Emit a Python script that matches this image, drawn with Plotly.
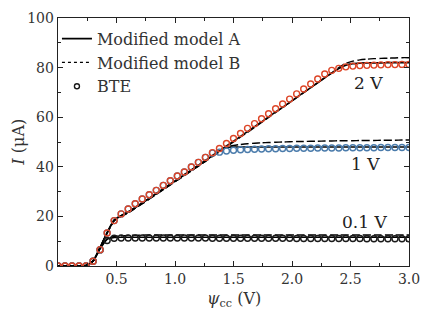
import plotly.graph_objects as go

# Bias grid psi_cc (V)
psi = [0.00, 0.06, 0.12, 0.18, 0.24, 0.30, 0.36, 0.42, 0.48, 0.54,
       0.60, 0.66, 0.72, 0.78, 0.84, 0.90, 0.96, 1.02, 1.08, 1.14,
       1.20, 1.26, 1.32, 1.38, 1.44, 1.50, 1.56, 1.62, 1.68, 1.74,
       1.80, 1.86, 1.92, 1.98, 2.04, 2.10, 2.16, 2.22, 2.28, 2.34,
       2.40, 2.46, 2.52, 2.58, 2.64, 2.70, 2.76, 2.82, 2.88, 2.94, 3.00]

# BTE currents (uA)
bte_2v = [0, 0, 0, 0, 0, 1.9, 6.6, 13.3, 18.3, 21.0,
          23.0, 25.1, 27.0, 28.7, 30.5, 32.5, 34.4, 36.3, 37.9, 39.9,
          41.8, 43.8, 45.7, 47.4, 49.4, 51.4, 53.4, 55.5, 57.4, 59.4,
          61.4, 63.4, 65.3, 67.3, 69.4, 71.4, 73.4, 75.4, 77.4, 78.9,
          79.7, 80.3, 80.6, 80.8, 80.9, 81.0, 81.1, 81.2, 81.2, 81.3, 81.3]
bte_1v = [0, 0, 0, 0, 0, 1.9, 6.6, 13.3, 18.3, 21.0,
          23.0, 25.1, 27.0, 28.7, 30.5, 32.5, 34.4, 36.3, 37.9, 39.9,
          41.8, 43.8, 45.5, 45.9, 46.4, 46.7, 46.9, 47.0, 47.1, 47.2,
          47.3, 47.3, 47.4, 47.4, 47.5, 47.5, 47.5, 47.6, 47.6, 47.6,
          47.6, 47.7, 47.7, 47.7, 47.7, 47.7, 47.8, 47.8, 47.8, 47.8, 47.8]
bte_01v = [0, 0, 0, 0, 0, 1.9, 6.5, 10.3, 11.2, 11.3,
           11.3, 11.3, 11.3, 11.3, 11.3, 11.3, 11.3, 11.3, 11.3, 11.3,
           11.3, 11.3, 11.2, 11.2, 11.2, 11.2, 11.2, 11.2, 11.2, 11.2,
           11.2, 11.2, 11.2, 11.2, 11.1, 11.1, 11.1, 11.1, 11.1, 11.1,
           11.1, 11.1, 11.1, 11.1, 11.0, 11.0, 11.0, 11.0, 11.0, 11.0, 11.0]

# Modified model A (solid)
a_2v = [0, 0, 0, 0, 0.2, 2.0, 7.5, 13.5, 18.5, 20.3,
        21.8, 23.6, 25.4, 27.3, 29.2, 31.1, 33.0, 34.9, 36.8, 38.7,
        40.6, 42.5, 44.5, 46.4, 48.4, 50.3, 52.3, 54.2, 56.2, 58.1,
        60.1, 62.1, 64.0, 66.0, 68.0, 70.0, 71.9, 73.9, 75.9, 77.8,
        79.6, 81.0, 81.6, 81.8, 81.9, 81.9, 81.9, 82.0, 82.0, 82.0, 82.0]
a_1v = [0, 0, 0, 0, 0.2, 2.0, 7.5, 13.5, 18.5, 20.3,
        21.8, 23.6, 25.4, 27.3, 29.2, 31.1, 33.0, 34.9, 36.8, 38.7,
        40.6, 42.5, 44.5, 46.4, 47.8, 48.0, 48.0, 48.0, 48.0, 48.0,
        48.0, 48.0, 48.0, 48.0, 48.0, 48.0, 48.0, 48.0, 48.0, 48.0,
        48.0, 48.0, 48.0, 48.0, 48.0, 48.0, 48.0, 48.0, 48.0, 48.0, 48.0]
a_01v = [0, 0, 0, 0, 0.2, 2.0, 7.0, 10.8, 11.5, 11.6,
         11.6, 11.6, 11.6, 11.6, 11.6, 11.6, 11.6, 11.6, 11.6, 11.6,
         11.6, 11.6, 11.6, 11.6, 11.6, 11.6, 11.6, 11.6, 11.6, 11.6,
         11.6, 11.6, 11.6, 11.6, 11.6, 11.6, 11.6, 11.6, 11.6, 11.6,
         11.6, 11.6, 11.6, 11.6, 11.6, 11.6, 11.6, 11.6, 11.6, 11.6, 11.6]

# Modified model B (dashed)
b_2v = [0, 0, 0, 0, 0.2, 2.0, 7.4, 13.3, 18.2, 20.0,
        21.5, 23.3, 25.1, 27.0, 28.9, 30.8, 32.7, 34.6, 36.5, 38.4,
        40.3, 42.2, 44.2, 46.1, 48.1, 50.0, 52.0, 53.9, 55.9, 57.9,
        59.9, 61.9, 63.9, 65.9, 67.9, 69.9, 71.9, 73.9, 75.9, 77.9,
        80.0, 81.7, 82.6, 83.1, 83.4, 83.6, 83.7, 83.8, 83.9, 84.0, 84.0]
b_1v = [0, 0, 0, 0, 0.2, 2.0, 7.4, 13.3, 18.2, 20.0,
        21.5, 23.3, 25.1, 27.0, 28.9, 30.8, 32.7, 34.6, 36.5, 38.4,
        40.3, 42.2, 44.2, 46.1, 47.9, 48.6, 49.0, 49.3, 49.5, 49.7,
        49.8, 49.9, 50.0, 50.1, 50.2, 50.2, 50.3, 50.3, 50.4, 50.4,
        50.5, 50.5, 50.5, 50.6, 50.6, 50.6, 50.7, 50.7, 50.7, 50.8, 50.8]
b_01v = [0, 0, 0, 0, 0.2, 2.0, 7.0, 11.0, 11.9, 12.2,
         12.35, 12.4, 12.45, 12.5, 12.5, 12.5, 12.5, 12.5, 12.5, 12.5,
         12.5, 12.5, 12.5, 12.5, 12.5, 12.5, 12.5, 12.5, 12.5, 12.5,
         12.5, 12.5, 12.5, 12.5, 12.5, 12.5, 12.5, 12.5, 12.5, 12.5,
         12.5, 12.5, 12.5, 12.5, 12.5, 12.5, 12.5, 12.5, 12.5, 12.5, 12.5]

x_ticks = [0.5, 1.0, 1.5, 2.0, 2.5, 3.0]
x_tick_text = ["0.5", "1.0", "1.5", "2.0", "2.5", "3.0"]
y_ticks = [0, 20, 40, 60, 80, 100]

labels = ["0.1 V", "1 V", "2 V"]
label_x = [2.62, 2.63, 2.65]
label_y = [17.6, 41.2, 73.6]

FONT = "DejaVu Serif"
RED = "#dd4527"
BLUE = "#4a7bab"
BLK = "#1a1a1a"

fig = go.Figure()

for a, b in [(a_01v, b_01v), (a_1v, b_1v), (a_2v, b_2v)]:
    fig.add_trace(go.Scatter(x=psi, y=b, mode="lines", showlegend=False,
                             line=dict(color="black", width=1.4, dash="8px,3px", shape="spline", smoothing=0.6)))
    fig.add_trace(go.Scatter(x=psi, y=a, mode="lines", showlegend=False,
                             line=dict(color="black", width=1.6, shape="spline", smoothing=0.6)))

for ys, c in [(bte_01v, BLK), (bte_1v, BLUE), (bte_2v, RED)]:
    fig.add_trace(go.Scatter(x=psi, y=ys, mode="markers", showlegend=False,
                             marker=dict(symbol="circle-open", size=6, color=c, line=dict(width=1.4, color=c))))

# legend entries
fig.add_trace(go.Scatter(x=[None], y=[None], mode="lines", name="Modified model A",
                         line=dict(color="black", width=1.6)))
fig.add_trace(go.Scatter(x=[None], y=[None], mode="lines", name="Modified model B",
                         line=dict(color="black", width=1.4, dash="dot")))
fig.add_trace(go.Scatter(x=[None], y=[None], mode="markers", name="BTE",
                         marker=dict(symbol="circle-open", size=5, color=BLK, line=dict(width=1.4, color=BLK))))

for t, xx, yy in zip(labels, label_x, label_y):
    fig.add_annotation(x=xx, y=yy, text=t, showarrow=False,
                       font=dict(family=FONT, size=17, color="#222"))

# axis titles as annotations for exact placement
fig.add_annotation(x=0.5, y=-0.085, xref="paper", yref="paper", yanchor="top",
                   text="<i>ψ</i><sub>cc</sub> (V)", showarrow=False,
                   font=dict(family=FONT, size=16, color="#333"))
fig.add_annotation(x=-0.115, y=0.5, xref="paper", yref="paper", xanchor="center",
                   text="<i>I</i> (μA)", textangle=-90, showarrow=False,
                   font=dict(family=FONT, size=16, color="#333"))

axis_common = dict(showgrid=False, zeroline=False, showline=True, linecolor="#222", linewidth=1.3,
                   mirror="allticks", ticks="inside", ticklen=5, tickwidth=1, tickcolor="#222",
                   automargin=False, tickfont=dict(family=FONT, size=14, color="#333"))

fig.update_xaxes(range=[0, 3.0], tickvals=x_ticks, ticktext=x_tick_text,
                 minor=dict(dtick=0.25, tick0=0, ticks="inside", ticklen=3, tickcolor="#222"),
                 **axis_common)
fig.update_yaxes(range=[0, 100], tickvals=y_ticks,
                 minor=dict(dtick=10, tick0=0, ticks="inside", ticklen=3, tickcolor="#222"),
                 **axis_common)

fig.update_layout(
    width=436, height=309,
    margin=dict(l=58, r=27, t=18, b=43),
    paper_bgcolor="white", plot_bgcolor="white",
    showlegend=True,
    legend=dict(x=-0.003, y=0.985, xanchor="left", yanchor="top", bgcolor="rgba(0,0,0,0)",
                font=dict(family=FONT, size=16, color="#333"), tracegroupgap=0, itemwidth=30),
)

fig.write_html("out.html", config={"displayModeBar": False, "staticPlot": True},
               post_script="document.body.style.margin='0';document.body.style.overflow='hidden';")
